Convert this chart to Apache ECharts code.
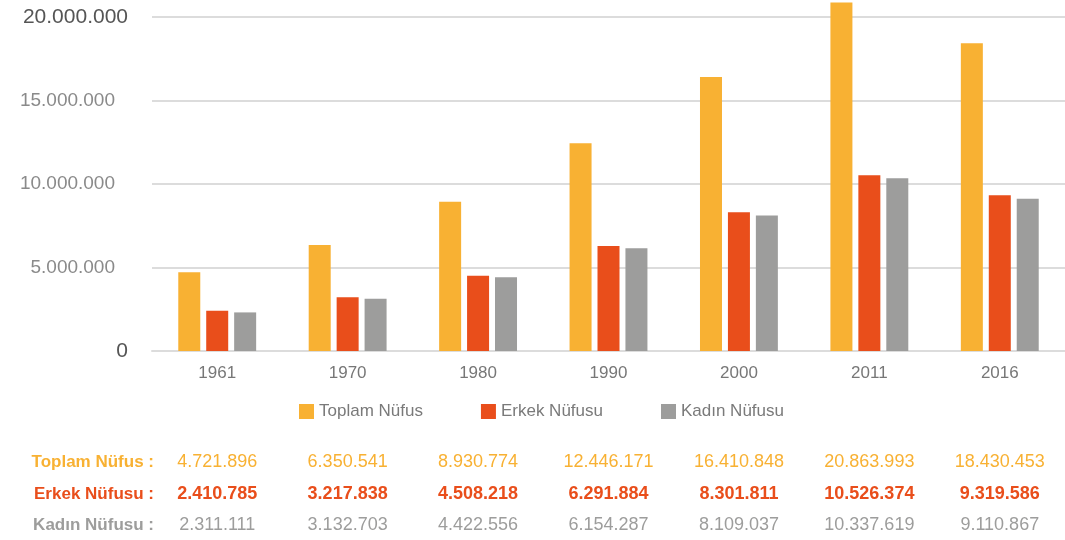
<!DOCTYPE html>
<html>
<head>
    <meta charset="utf-8">
    <title>Nüfus</title>
    <script src="https://cdn.jsdelivr.net/npm/echarts@6/dist/echarts.min.js"></script>
    <style>
        html, body { margin: 0; padding: 0; background: #fff; }
        #chart1 { width: 1065px; height: 540px; }
    </style>
</head>
<body>
<div id="chart1"></div>
<script>
    // veriler
    var years = ['1961', '1970', '1980', '1990', '2000', '2011', '2016'];
    var toplam = [4721896, 6350541, 8930774, 12446171, 16410848, 20863993, 18430453];
    var erkek = [2410785, 3217838, 4508218, 6291884, 8301811, 10526374, 9319586];
    var kadin = [2311111, 3132703, 4422556, 6154287, 8109037, 10337619, 9110867];
    var seriesNames = ['Toplam Nüfus', 'Erkek Nüfusu', 'Kadın Nüfusu'];
    var rowTitles = ['Toplam Nüfus :', 'Erkek Nüfusu :', 'Kadın Nüfusu :'];
    var colors = ['#F8B133', '#E94E1B', '#9D9D9C'];

    var FONT = "'Liberation Sans', Arial, sans-serif";

    // 1234567 -> 1.234.567
    function fmt(v) {
        return String(v).replace(/\B(?=(\d{3})+(?!\d))/g, '.');
    }

    // tablo satiri icin ek x ekseni
    function tableAxis(values, title, color, offset, weight) {
        return {
            type: 'category',
            gridIndex: 0,
            position: 'bottom',
            offset: offset,
            data: years,
            axisLine: {show: false},
            axisTick: {show: false},
            splitLine: {show: false},
            axisLabel: {
                margin: 0,
                verticalAlign: 'middle',
                color: color,
                fontFamily: FONT,
                fontSize: 18,
                fontWeight: weight,
                formatter: function (v, i) {
                    return fmt(values[i]);
                }
            },
            name: title,
            nameLocation: 'start',
            nameGap: -2,
            nameTextStyle: {
                color: color,
                fontFamily: FONT,
                fontSize: 17,
                fontWeight: 'bold',
                verticalAlign: 'middle'
            }
        };
    }

    var myChart1 = echarts.init(document.getElementById('chart1'));
    myChart1.setOption({
        animation: false,
        textStyle: {fontFamily: FONT},
        grid: {left: 152, right: 0, top: 17, bottom: 189},
        legend: {
            data: seriesNames,
            top: 398,
            left: 294,
            itemWidth: 15,
            itemHeight: 15,
            itemGap: 58,
            icon: 'rect',
            textStyle: {color: '#7a7a7a', fontSize: 17, fontFamily: FONT}
        },
        xAxis: [
            {
                type: 'category',
                data: years,
                axisLine: {lineStyle: {color: '#dcdcdc', width: 2}},
                axisTick: {show: false},
                axisLabel: {color: '#777', fontSize: 17, margin: 14}
            },
            tableAxis(toplam, rowTitles[0], colors[0], 111, 'normal'),
            tableAxis(erkek, rowTitles[1], colors[1], 143, 'bold'),
            tableAxis(kadin, rowTitles[2], colors[2], 174, 'normal')
        ],
        yAxis: {
            type: 'value',
            min: 0,
            max: 20000000,
            interval: 5000000,
            axisLine: {show: false},
            axisTick: {show: false},
            splitLine: {lineStyle: {color: '#dcdcdc', width: 2}},
            axisLabel: {
                margin: 24,
                formatter: function (v) {
                    if (v === 0 || v === 20000000) {
                        return '{b|' + fmt(v) + '}';
                    }
                    return '{a|' + fmt(v) + '}';
                },
                rich: {
                    a: {color: '#8a8a8a', fontSize: 19, padding: [0, 13, 0, 0], fontFamily: FONT},
                    b: {color: '#555', fontSize: 21, fontFamily: FONT}
                }
            }
        },
        series: [
            {name: seriesNames[0], type: 'bar', data: toplam, barWidth: 22, barGap: '27%', clip: false,
                itemStyle: {color: colors[0]}},
            {name: seriesNames[1], type: 'bar', data: erkek, barWidth: 22, barGap: '27%', clip: false,
                itemStyle: {color: colors[1]}},
            {name: seriesNames[2], type: 'bar', data: kadin, barWidth: 22, barGap: '27%', clip: false,
                itemStyle: {color: colors[2]}}
        ]
    });
</script>
</body>
</html>
